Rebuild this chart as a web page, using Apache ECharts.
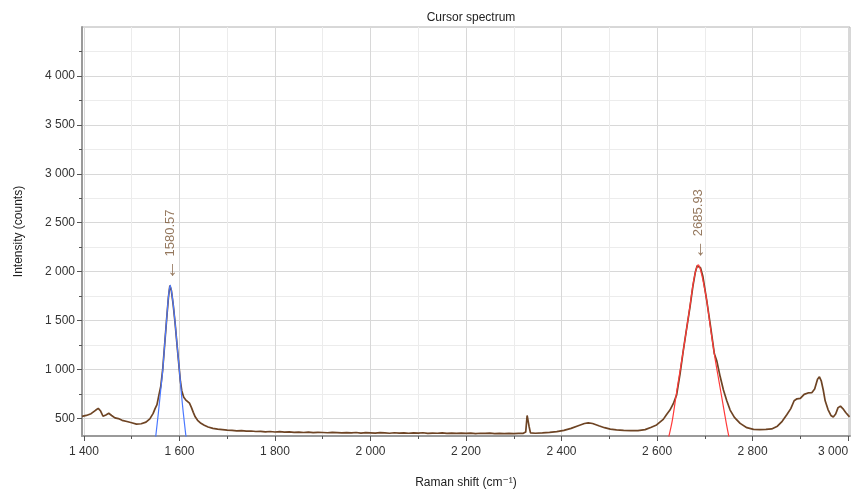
<!DOCTYPE html>
<html>
<head>
<meta charset="utf-8">
<script src="https://cdn.jsdelivr.net/npm/echarts@6.0.0/dist/echarts.min.js"></script>
<style>html,body{margin:0;padding:0;background:#fff;}#chart{width:853px;height:497px;}</style>
</head>
<body>
<div id="chart"></div>
<script>
// Measured spectrum (Raman shift, cm-1) and intensity (counts)
var ramanShift = [1396,1405,1415,1425,1430,1435,1440,1446,1452,1458,1465,1472,1480,1490,1500,1510,1520,1530,1538,1545,1549,1553,1557,1561,1565,1569,1573,1577,1580,1583,1587,1591,1595,1599,1602,1605,1609,1613,1617,1621,1625,1629,1633,1638,1645,1652,1660,1670,1680,1690,1700,1710,1720,1730,1740,1750,1760,1770,1780,1790,1800,1810,1820,1830,1840,1850,1860,1870,1880,1890,1900,1910,1920,1930,1940,1950,1960,1970,1980,1990,2000,2010,2020,2030,2040,2050,2060,2070,2080,2090,2100,2110,2120,2130,2140,2150,2160,2170,2180,2190,2200,2210,2220,2230,2240,2250,2260,2270,2280,2290,2300,2310,2320,2325,2328,2330,2332,2335,2345,2360,2375,2390,2405,2420,2435,2448,2456,2465,2478,2490,2502,2515,2530,2545,2560,2575,2588,2599,2613,2620,2627,2634,2641,2648,2655,2662,2669,2675,2680,2684,2687,2691,2696,2704,2712,2720,2725,2732,2739,2746,2753,2762,2774,2788,2802,2815,2828,2840,2852,2862,2872,2880,2887,2893,2900,2908,2916,2924,2930,2936,2940,2944,2948,2952,2958,2964,2969,2974,2979,2984,2989,2995,3003];
var intensity = [520,530,548,585,602,575,522,535,552,530,505,498,480,468,455,442,445,462,495,551,600,640,737,830,1000,1250,1500,1740,1858,1810,1660,1470,1250,1040,880,780,715,690,670,655,612,562,516,480,450,430,412,398,390,386,381,377,372,375,369,371,366,368,363,366,361,364,359,362,357,360,356,359,354,357,356,353,357,354,351,355,352,356,350,354,352,349,354,351,348,353,350,352,348,351,349,353,347,350,348,351,347,349,346,350,347,349,345,348,346,349,345,347,344,346,345,346,347,360,530,540,420,352,348,352,358,365,378,398,425,448,455,448,425,405,390,382,377,374,375,385,410,433,490,540,585,650,740,950,1195,1420,1640,1850,1990,2060,2070,2040,1950,1705,1440,1160,1090,930,790,680,585,510,449,405,388,386,387,392,420,470,540,600,680,700,705,745,760,762,800,900,925,880,790,680,590,530,515,545,610,625,600,560,515];

// Peak fits
var fitG_x = [1550,1556,1561,1565,1569,1573,1577,1580.57,1584,1588,1592,1596,1600,1604,1608,1614];
var fitG_y = [300,560,800,990,1250,1500,1740,1862,1780,1620,1420,1200,990,760,560,300];
var fit2D_x = [2624,2632,2641,2648,2655,2662,2669,2675,2680,2684,2685.93,2689,2694,2699,2704,2712,2721,2730,2739,2745,2751];
var fit2D_y = [300,480,770,980,1195,1420,1650,1860,1990,2055,2070,2050,1960,1840,1705,1420,1127,870,618,450,300];

// Peak cursor labels
var peakX = [1580.57, 2685.93];
var peakY = [1862, 2070];

// Axis ticks
var xMajorTicks = [1400,1600,1800,2000,2200,2400,2600,2800,3000];
var xMinorTicks = [1500,1700,1900,2100,2300,2500,2700,2900];
var yMajorTicks = [500,1000,1500,2000,2500,3000,3500,4000];
var yMinorTicks = [750,1250,1750,2250,2750,3250,3750,4250];

function zip(a,b){var r=[];for(var i=0;i<a.length;i++)r.push([a[i],b[i]]);return r;}
function fmt(v){return String(v).replace(/\B(?=(\d{3})+(?!\d))/g,' ');}

var FONT = "'Liberation Sans', Arial, 'DejaVu Sans', sans-serif";
var brown = '#6e4424';
var labelColor = '#7a5636';

var chart = echarts.init(document.getElementById('chart'), null, {renderer:'canvas'});
chart.setOption({
  animation:false,
  backgroundColor:'#ffffff',
  textStyle:{fontFamily:FONT},
  title:{text:'Cursor spectrum', left:466, textAlign:'center', top:7,
    textStyle:{fontSize:12, fontWeight:'normal', color:'#222', fontFamily:FONT}},
  grid:{left:82, right:3, top:27, bottom:61, containLabel:false, outerBoundsMode:'none',
    show:true, borderColor:'#b0b0b0', borderWidth:1},
  xAxis:[{
    type:'value', min:1396, max:3004, position:'bottom',
    name:'Raman shift (cm\u207B\u00B9)', nameLocation:'middle', nameGap:41,
    nameTextStyle:{fontSize:12, color:'#222', fontFamily:FONT},
    axisLine:{show:true, onZero:false, lineStyle:{color:'#9a9a9a', width:2}},
    axisTick:{show:true, customValues:xMajorTicks, length:5, lineStyle:{color:'#555'}},
    axisLabel:{customValues:xMajorTicks, formatter:fmt, color:'#333', fontSize:12, margin:10, alignMaxLabel:'right', fontFamily:FONT},
    splitLine:{show:true, lineStyle:{color:'#d8d8d8', width:1}}
  },{
    type:'value', min:1396, max:3004, position:'bottom',
    axisLine:{show:false, onZero:false},
    axisTick:{show:true, customValues:xMinorTicks, length:3, lineStyle:{color:'#555'}},
    axisLabel:{show:false},
    splitLine:{show:true, lineStyle:{color:'#ececec', width:1}}
  }],
  yAxis:[{
    type:'value', min:320, max:4500, position:'left',
    name:'Intensity (counts)', nameLocation:'middle', nameGap:57,
    nameTextStyle:{fontSize:12, color:'#222', fontFamily:FONT},
    axisLine:{show:true, onZero:false, lineStyle:{color:'#9a9a9a', width:2}},
    axisTick:{show:true, customValues:yMajorTicks, length:5, lineStyle:{color:'#555'}},
    axisLabel:{customValues:yMajorTicks, formatter:fmt, color:'#333', fontSize:12, margin:7, fontFamily:FONT},
    splitLine:{show:true, lineStyle:{color:'#d8d8d8', width:1}}
  },{
    type:'value', min:320, max:4500, position:'left',
    axisLine:{show:false, onZero:false},
    axisTick:{show:true, customValues:yMinorTicks, length:3, lineStyle:{color:'#555'}},
    axisLabel:{show:false},
    splitLine:{show:true, lineStyle:{color:'#ececec', width:1}}
  }],
  series:[
    {type:'line', name:'spectrum', data:zip(ramanShift,intensity), showSymbol:false, symbol:'none',
      lineStyle:{color:brown, width:1.7}, z:3, silent:true},
    {type:'line', name:'G fit', data:zip(fitG_x,fitG_y), showSymbol:false, symbol:'none', smooth:0.3,
      lineStyle:{color:'#4a78ff', width:1.2}, z:4, silent:true},
    {type:'line', name:'2D fit', data:zip(fit2D_x,fit2D_y), showSymbol:false, symbol:'none', smooth:0.3,
      lineStyle:{color:'#ff3a3a', width:1.2}, z:4, silent:true},
    {type:'scatter', name:'cursor', data:zip(peakX,peakY), symbolSize:2, itemStyle:{color:'rgba(0,0,0,0)'}, z:5, silent:true,
      labelLayout:{hideOverlap:false},
      label:{show:true, position:'top', distance:4, rotate:90, align:'left', verticalAlign:'middle',
        formatter:function(p){return '{a|\u2190}{t| ' + p.value[0].toFixed(2) + '}';},
        rich:{
          a:{fontSize:20, color:labelColor, fontFamily:FONT, verticalAlign:'middle'},
          t:{fontSize:13, color:labelColor, fontFamily:FONT, verticalAlign:'middle'}
        }}}
  ]
});
</script>
</body>
</html>
